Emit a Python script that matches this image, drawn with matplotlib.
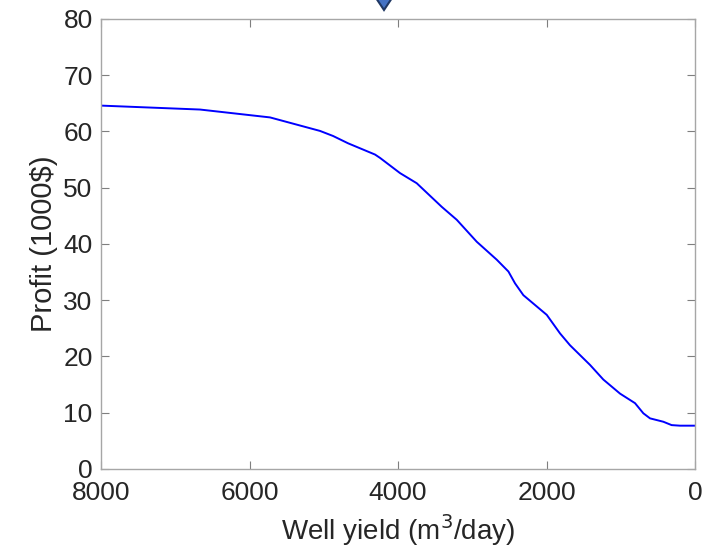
import numpy as np
import matplotlib.pyplot as plt
from matplotlib.patches import Polygon

plt.rcParams['font.family'] = ['Liberation Sans', 'DejaVu Sans']

# well yield (m3/day) and profit (1000$)
well_yield = [8000, 6667, 5724, 5051, 4875, 4673, 4310, 4242, 3973, 3748, 3411,
              3209, 2940, 2670, 2513, 2424, 2312, 2132, 1997, 1818, 1684, 1414,
              1235, 1010, 808, 696, 606, 427, 315, 202, 0]
profit = [64.6, 63.9, 62.5, 60.1, 59.2, 57.9, 55.9, 55.3, 52.6, 50.8, 46.6,
          44.3, 40.4, 37.2, 35.1, 33.0, 30.9, 28.9, 27.4, 24.1, 22.0, 18.5,
          15.9, 13.4, 11.7, 9.9, 9.0, 8.4, 7.8, 7.7, 7.7]

fig = plt.figure(figsize=(7.1, 5.5), dpi=100)
ax = fig.add_axes([0.1423, 0.1473, 0.9789 - 0.1423, 0.9655 - 0.1473])

ax.plot(well_yield, profit, color='#0000ff', linewidth=1.4)

ax.set_xlim(8000, 0)
ax.set_ylim(0, 80)
ax.set_xticks([8000, 6000, 4000, 2000, 0])
ax.set_yticks(np.arange(0, 81, 10))

ax.set_xlabel('Well yield (m$^3$/day)', fontsize=20, color='#262626', labelpad=5)
ax.set_ylabel('Profit (1000$)', fontsize=21, color='#262626', labelpad=4)

for s in ax.spines.values():
    s.set_color('#a6a6a6')
    s.set_linewidth(1.0)
ax.tick_params(direction='in', length=6, width=0.8, color='#7f7f7f',
               labelsize=19, labelcolor='#262626', top=True, right=True)
ax.tick_params(axis='x', pad=9)
ax.tick_params(axis='y', pad=6)

# blue arrow marker at the top of the figure
W, H = 710.0, 550.0
arrow = Polygon([(370 / W, 1.02), (384 / W, 1 - 10 / H), (398 / W, 1.02)],
                closed=True, transform=fig.transFigure, facecolor='#4472c4',
                edgecolor='#203864', linewidth=1.5, clip_on=False)
fig.patches.append(arrow)

fig.savefig('out.png', dpi=100)
